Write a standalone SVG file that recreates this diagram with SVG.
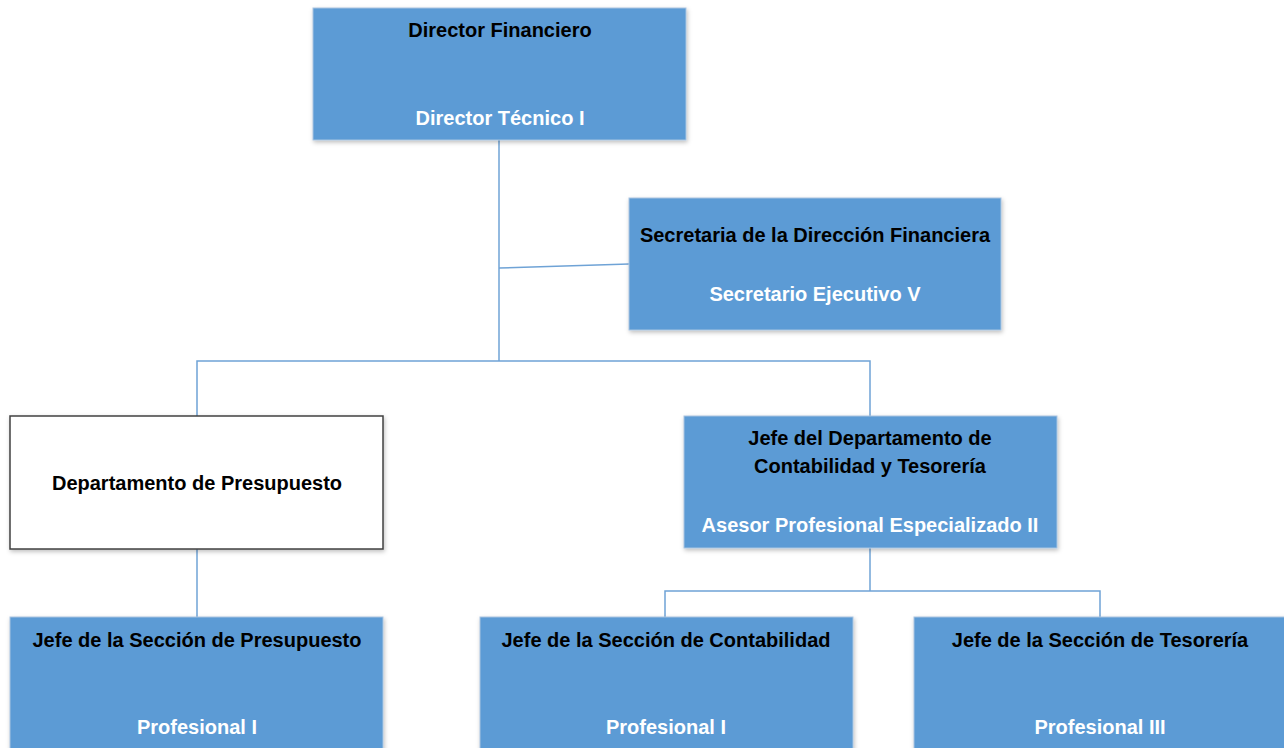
<svg xmlns="http://www.w3.org/2000/svg" width="1284" height="748" viewBox="0 0 1284 748">
<style>
.box{fill:#5B9BD5;stroke:#A9C4E0;stroke-width:1}
.wbox{fill:#FFFFFF;stroke:#404040;stroke-width:1.5}
.t{font-family:"Liberation Sans",Arial,sans-serif;font-weight:bold;font-size:20px;text-anchor:middle}
.k{fill:#000000}
.w{fill:#FFFFFF}
.c{fill:none;stroke:#6FA3D6;stroke-width:1.5}
</style>
<defs>
<filter id="sh" x="-5%" y="-5%" width="110%" height="115%">
<feDropShadow dx="1" dy="2" stdDeviation="2" flood-color="#000" flood-opacity="0.25"/>
</filter>
</defs>
<rect width="1284" height="748" fill="#FFFFFF"/>
<g id="connectors">
<path class="c" d="M499 140 V361"/>
<path class="c" d="M499 268 L629 264"/>
<path class="c" d="M197 416 V361 H870 V416"/>
<path class="c" d="M197 549 V617"/>
<path class="c" d="M870 548 V591"/>
<path class="c" d="M665 617 V591 H1100 V617"/>
</g>
<g id="director">
<rect class="box" x="313" y="8" width="373" height="132" filter="url(#sh)"/>
<text class="t k" x="500" y="37">Director Financiero</text>
<text class="t w" x="500" y="125">Director Técnico I</text>
</g>
<g id="secretaria">
<rect class="box" x="629" y="198" width="372" height="132" filter="url(#sh)"/>
<text class="t k" x="815" y="242">Secretaria de la Dirección Financiera</text>
<text class="t w" x="815" y="301">Secretario Ejecutivo V</text>
</g>
<g id="presupuesto">
<rect class="wbox" x="10" y="416" width="373" height="133" filter="url(#sh)"/>
<text class="t k" x="197" y="490">Departamento de Presupuesto</text>
</g>
<g id="contabilidad-tesoreria">
<rect class="box" x="684" y="416" width="373" height="132" filter="url(#sh)"/>
<text class="t k" x="870" y="445">Jefe del Departamento de</text>
<text class="t k" x="870" y="473">Contabilidad y Tesorería</text>
<text class="t w" x="870" y="532">Asesor Profesional Especializado II</text>
</g>
<g id="sec-presupuesto">
<rect class="box" x="10" y="617" width="373" height="140" filter="url(#sh)"/>
<text class="t k" x="197" y="647">Jefe de la Sección de Presupuesto</text>
<text class="t w" x="197" y="734">Profesional I</text>
</g>
<g id="sec-contabilidad">
<rect class="box" x="480" y="617" width="373" height="140" filter="url(#sh)"/>
<text class="t k" x="666" y="647">Jefe de la Sección de Contabilidad</text>
<text class="t w" x="666" y="734">Profesional I</text>
</g>
<g id="sec-tesoreria">
<rect class="box" x="914" y="617" width="380" height="140" filter="url(#sh)"/>
<text class="t k" x="1100" y="647">Jefe de la Sección de Tesorería</text>
<text class="t w" x="1100" y="734">Profesional III</text>
</g>
</svg>
